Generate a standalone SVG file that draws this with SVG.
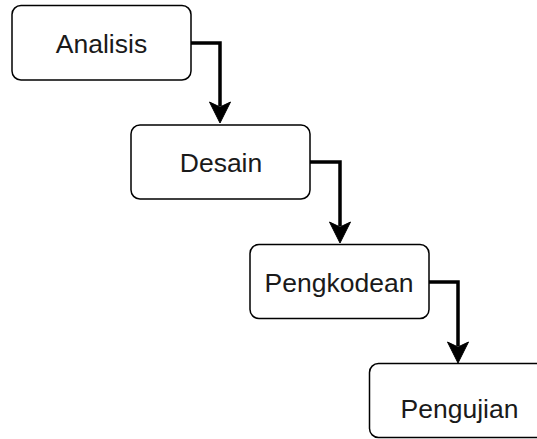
<svg xmlns="http://www.w3.org/2000/svg" width="537" height="439" viewBox="0 0 537 439">
<style>
.box{fill:#fff;stroke:#000;stroke-width:1.5}
.lbl{font-family:"Liberation Sans",Arial,sans-serif;font-size:26.5px;fill:#1a1a1a;text-anchor:middle}
.conn{fill:none;stroke:#000;stroke-width:3.5;stroke-linejoin:miter}
.head{fill:#000;stroke:#000;stroke-width:1}
</style>
<rect width="537" height="439" fill="#fff"/>
<g id="connectors">
<path class="conn" d="M191 43 H220 V106"/>
<path class="head" d="M220 123 L209.5 102 L220 107 L230.5 102 Z"/>
<path class="conn" d="M310 162 H340 V226"/>
<path class="head" d="M340 243 L329.5 222 L340 227 L350.5 222 Z"/>
<path class="conn" d="M429 282 H458 V346"/>
<path class="head" d="M458 363 L447.5 342 L458 347 L468.5 342 Z"/>
</g>
<g id="analisis">
<rect class="box" x="12" y="5.5" width="179" height="74.5" rx="9"/>
<text class="lbl" x="101.5" y="52.5">Analisis</text>
</g>
<g id="desain">
<rect class="box" x="131" y="125" width="179" height="74" rx="9"/>
<text class="lbl" x="221" y="172">Desain</text>
</g>
<g id="pengkodean">
<rect class="box" x="250" y="244.5" width="179" height="74" rx="9"/>
<text class="lbl" x="339" y="292">Pengkodean</text>
</g>
<g id="pengujian">
<rect class="box" x="369.5" y="363.5" width="180" height="74" rx="9"/>
<text class="lbl" x="459.5" y="418">Pengujian</text>
</g>
</svg>
